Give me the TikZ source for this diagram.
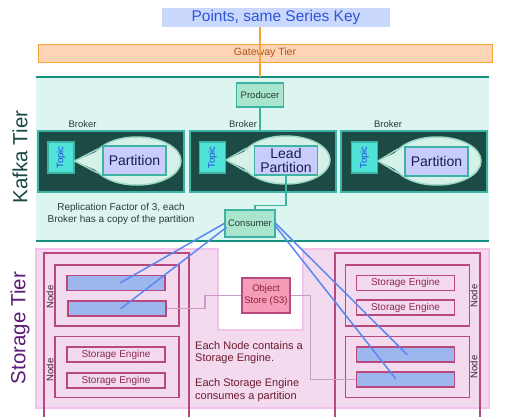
\documentclass[tikz,border=0pt]{standalone}
\usepackage{fontspec}
\setmainfont{Liberation Sans}
\usepackage{tikz}
\usetikzlibrary{calc,shapes.geometric}
\usepackage{xcolor}
\definecolor{titlefill}{HTML}{C9D8FC}
\definecolor{titletext}{HTML}{2E55D6}
\definecolor{gwline}{HTML}{F5A33A}
\definecolor{gwfill}{HTML}{FDD5B6}
\definecolor{gwtext}{HTML}{B0501A}
\definecolor{kafkafill}{HTML}{DDF5F1}
\definecolor{kafkaline}{HTML}{12917F}
\definecolor{kafkatext}{HTML}{1B4747}
\definecolor{mint}{HTML}{A9E5CD}
\definecolor{tealline}{HTML}{3DB4A3}
\definecolor{brokerfill}{HTML}{1C4B46}
\definecolor{topicfill}{HTML}{50E4D9}
\definecolor{topictext}{HTML}{2343DD}
\definecolor{bubblefill}{HTML}{D6F2E8}
\definecolor{bubbleline}{HTML}{9BD8C6}
\definecolor{partfill}{HTML}{C8CDFC}
\definecolor{parttext}{HTML}{1B1B55}
\definecolor{darktext}{HTML}{253B3B}
\definecolor{storefill}{HTML}{F3DAEF}
\definecolor{storeline}{HTML}{F3C2EC}
\definecolor{storetext}{HTML}{5B1B78}
\definecolor{nodeline}{HTML}{B9487C}
\definecolor{nodetext}{HTML}{3A2030}
\definecolor{enginetext}{HTML}{8C2850}
\definecolor{barfill}{HTML}{9DB6EE}
\definecolor{objfill}{HTML}{F59DB8}
\definecolor{objtext}{HTML}{8C1F3A}
\definecolor{s3line}{HTML}{C99BC6}
\definecolor{feedline}{HTML}{5B87F0}
\definecolor{notetext}{HTML}{6B1B2B}

\begin{document}
\begin{tikzpicture}[x=1pt,y=-1pt,
  box/.style 2 args={rectangle,inner sep=0pt,minimum width=#1,minimum height=#2},
  small/.style={font=\fontsize{9.5}{11}\selectfont},
  broker/.style={box={146}{61},fill=brokerfill,draw=tealline,line width=1.5pt},
  topic/.style={box={31}{26},rotate=90,fill=topicfill,draw=tealline,line width=1.2pt,small,text=topictext},
  bubble/.style={ellipse,inner sep=0pt,fill=bubblefill,draw=bubbleline,line width=1.5pt},
  part/.style={box={63}{29},fill=partfill,draw=tealline,line width=1.2pt,text=parttext,align=center,font=\fontsize{14}{14}\selectfont},
  client/.style={rectangle,inner sep=0pt,fill=mint,draw=tealline,line width=1.5pt,small,text=darktext},
  tier/.style={rotate=90,font=\fontsize{20.5}{22}\selectfont},
  outer/.style={box={145}{167},draw=nodeline,line width=1.5pt},
  snode/.style={box={124}{61},draw=nodeline,line width=1.5pt},
  engine/.style={box={98}{15},draw=nodeline,line width=1.5pt,font=\fontsize{10}{11}\selectfont,text=enginetext},
  bar/.style={engine,fill=barfill},
  wire/.style={tealline,line width=1.5pt},
  s3wire/.style={s3line,line width=1.5pt},
  feed/.style={feedline,line width=1.5pt,line cap=round}
  ]
\useasboundingbox (0,0) rectangle (512,416);
% gateway
\node[box={228}{19},fill=titlefill,text=titletext,font=\fontsize{15.5}{17}\selectfont] (points) at (276,17.5) {Points, same Series Key};
\node[box={454}{18},fill=gwfill,draw=gwline,line width=1pt,font=\fontsize{10.5}{12}\selectfont,text=gwtext] (gateway) at (265,53) {Gateway Tier};
% kafka tier
\node[box={453}{163},fill=kafkafill] (kafka) at (262.5,159) {};
\draw[kafkaline,line width=2pt] (kafka.north west) -- (kafka.north east);
\draw[kafkaline,line width=2pt] (kafka.south west) -- (kafka.south east);
\node[tier,text=kafkatext] (ktier) at (20,157) {Kafka Tier};
\node[client,minimum width=47,minimum height=24] (producer) at (260,95) {Producer};
\draw[gwline,line width=1.5pt] (points.south -| producer) -- (kafka.north -| producer);
\node[broker] (b1) at (111,161.5) {};
\node[broker] (b2) at (263,161.5) {};
\node[broker] (b3) at (414,161.5) {};
\node[small,text=darktext] (l1) at (82.5,124) {Broker};
\node[small,text=darktext] (l2) at (243,124) {Broker};
\node[small,text=darktext] (l3) at (388,124) {Broker};
\draw[wire] (producer.south) -- (producer.south |- b2.north);
\foreach \i/\tx/\ex/\ey in {1/61/137/161, 2/212.5/286/160, 3/364.5/437/161}{
  \node[topic] (t\i) at (\tx,157.5) {Topic};                                % rotated, south = right side
  \node[bubble,minimum width=88,minimum height=48] (e\i) at (\ex,\ey) {};
  \fill[bubblefill] (t\i.south |- e\i.center) -- ($(e\i.163)+(5,0)$) -- ($(e\i.197)+(5,0)$) -- cycle;
  \draw[bubbleline,line width=1.5pt,line join=round] (e\i.163) -- (t\i.south |- e\i.center) -- (e\i.197);
}
\node[part] (p1) at (134.5,160.5) {Partition};
\node[part] (p2) at (286,160.5) {Lead\\Partition};
\node[part] (p3) at (436.5,161.5) {Partition};
\node[client,minimum width=50,minimum height=27] (consumer) at (250,223.5) {Consumer};
\draw[wire] (p2.south) -- ++(0,30) -| ($(consumer.north)+(5,0)$);
\node[align=center,text=darktext,font=\fontsize{10}{12}\selectfont] (repl) at (121,214) {Replication Factor of 3, each\\Broker has a copy of the partition};
% storage tier
\path[fill=storefill,draw=storeline,line width=1.2pt] (36,249) -- (218,249) -- (218,330) -- (303,330) -- (303,249) -- (489,249) -- (489,408) -- (36,408) -- cycle;
\node[tier,text=storetext] (stier) at (20,328) {Storage Tier};
\node[outer] (left) at (116.5,336.5) {};
\node[outer] (right) at (407.5,336.5) {};
\node[snode] (n1) at (117,295.5) {};
\node[snode] (n2) at (117,367) {};
\node[snode] (n3) at (407.5,295.5) {};
\node[snode] (n4) at (407.5,367) {};
\foreach \n/\x/\y in {1/50/297, 2/50/370, 3/474/296, 4/474/367}
  \node[small,rotate=90,text=nodetext] (nl\n) at (\x,\y) {Node};
\node[bar] (bar1) at (116,283) {};
\node[bar] (bar2) at (117,308.5) {};
\node[engine] (se1) at (116,354.5) {Storage Engine};
\node[engine] (se2) at (116,380.5) {Storage Engine};
\node[engine] (se3) at (405.5,283) {Storage Engine};
\node[engine] (se4) at (405.5,307.5) {Storage Engine};
\node[bar] (bar3) at (405.5,354.5) {};
\node[bar] (bar4) at (405.5,379.5) {};
\node[box={48}{35},fill=objfill,draw=nodeline,line width=1.2pt,align=center,font=\fontsize{9.5}{12}\selectfont,text=objtext] (s3) at (266,295.5) {Object\\Store (S3)};
\draw[s3wire] (bar2.east) -- ++(38,0) |- (s3.west);
\draw[s3wire] (s3.east) -- ++(20,0) |- (bar4.west);
\node[anchor=north west,inner sep=0pt,align=left,text=notetext,font=\fontsize{11}{12.5}\selectfont] (info) at (195,341) {Each Node contains a\\Storage Engine.\\[12.5pt]Each Storage Engine\\consumes a partition};
% consumer feeds
\coordinate (in1) at ($(bar1.center)+(4,0)$);
\coordinate (in2) at ($(bar2.center)+(4,0)$);
\coordinate (in3) at ($(bar3.center)+(1.5,0)$);
\coordinate (in4) at ($(bar4.center)+(-10,-1)$);
\draw[feed] (consumer.west) -- (in1);
\draw[feed] ($(consumer.west)+(2,4)$) -- (in2);
\draw[feed] (consumer.east) -- (in3);
\draw[feed] ($(consumer.east)+(0,3)$) -- (in4);
\end{tikzpicture}
\end{document}
